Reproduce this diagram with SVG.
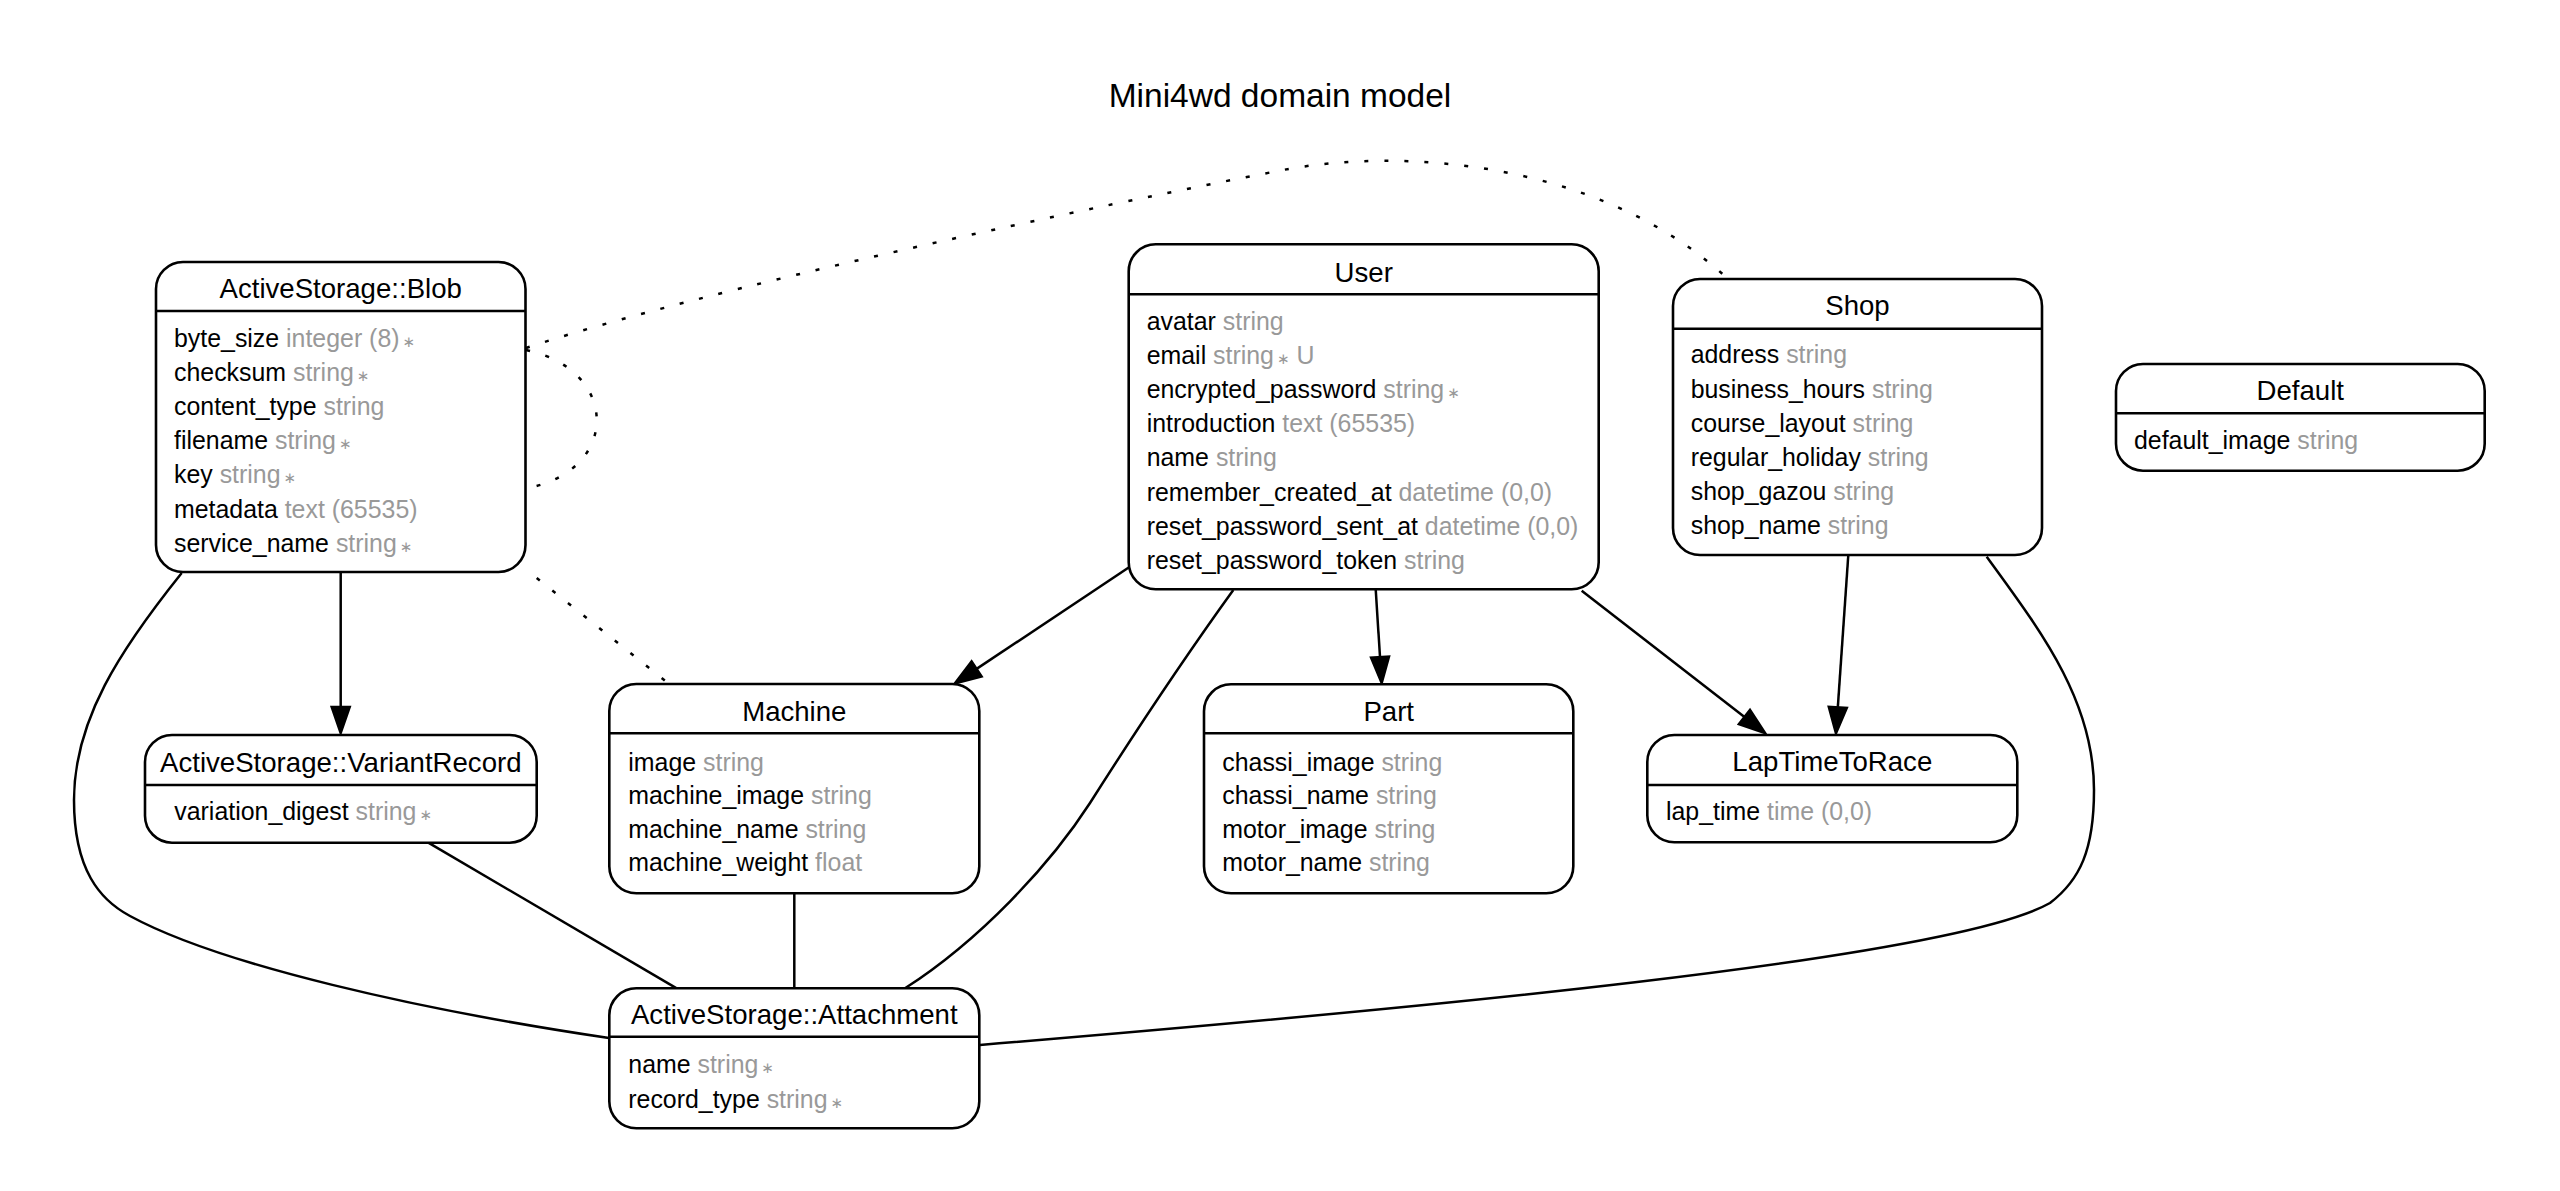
<svg xmlns="http://www.w3.org/2000/svg" width="2560" height="1191" viewBox="0 0 2560 1191">
<style>
.bg{fill:#fff}
.box{fill:#fff;stroke:#000;stroke-width:2.6}
.sep{stroke:#000;stroke-width:2.4}
text{font-family:"Liberation Sans",Arial,Helvetica,sans-serif;fill:#000}
.ttl{font-size:27.6px;text-anchor:middle}
.attr{font-size:24.9px}
.g{fill:#999}
.st{font-family:"DejaVu Sans",sans-serif;font-size:15px;fill:#999}
.head{font-size:33.5px;text-anchor:middle}
.edge{fill:none;stroke:#000;stroke-width:2.5}
.dot{stroke-dasharray:4 16}
.ah{fill:#000;stroke:#000;stroke-width:2.5;stroke-linejoin:miter}
</style>
<rect class="bg" x="0" y="0" width="2560" height="1191"/>
<text class="head" x="1280" y="106.7">Mini4wd domain model</text>

<g id="connectors">
  <!-- Blob -> Shop (dotted) -->
  <path class="edge dot" d="M526,348 C700,290 1100,205 1283,170 C1400,147.6 1600,160 1728,279"/>
  <!-- Blob self loop (dotted) -->
  <path class="edge dot" d="M526,350 C620,370 620,470 528,488"/>
  <!-- Blob -> Machine (dotted) -->
  <path class="edge dot" d="M536.7,578 L668,683"/>
  <!-- Blob -> VariantRecord -->
  <path class="edge" d="M340.7,572 L340.7,707"/>
  <polygon class="ah" points="340.7,733 331.7,707 349.7,707"/>
  <!-- Blob -> Attachment -->
  <path class="edge" d="M181.7,573 C120,650 74,720 74,800 C74,870 100,900 130,916 C220,965 420,1010 609,1038"/>
  <!-- VariantRecord -> Attachment -->
  <path class="edge" d="M428.3,842.7 L676.7,988.3"/>
  <!-- Machine -> Attachment -->
  <path class="edge" d="M794.3,893.3 L794.3,988.3"/>
  <!-- User -> Attachment -->
  <path class="edge" d="M1233.3,590 C1190,650 1130,740 1090,803 C1050,865 980,940 905,988.3"/>
  <!-- Shop -> Attachment -->
  <path class="edge" d="M1986.7,556.7 C2040,630 2094,700 2094,790 C2094,850 2080,880 2050,903 C1950,960 1400,1010 980,1045"/>
  <!-- User -> Machine -->
  <path class="edge" d="M1128.7,567.5 L976.6,668.9"/>
  <polygon class="ah" points="955,683.3 971.6,661.4 981.6,676.4"/>
  <!-- User -> Part -->
  <path class="edge" d="M1375.7,589.3 L1380,657"/>
  <polygon class="ah" points="1381.7,683 1371.1,657.6 1389,656.5"/>
  <!-- User -> LapTimeToRace -->
  <path class="edge" d="M1581.7,590.7 L1744.5,717.1"/>
  <polygon class="ah" points="1765,733 1738.9,724.2 1750,710"/>
  <!-- Shop -> LapTimeToRace -->
  <path class="edge" d="M1848.3,555 L1837.8,707.4"/>
  <polygon class="ah" points="1836,733.3 1828.8,706.8 1846.8,708"/>
</g>

<g id="blob">
  <rect class="box" x="156" y="262" width="369.5" height="310" rx="27"/>
  <line class="sep" x1="156" y1="311" x2="525.5" y2="311"/>
  <text class="ttl" x="340.7" y="298">ActiveStorage::Blob</text>
  <text class="attr" x="174" y="347">byte_size <tspan class="g">integer (8)</tspan><tspan class="st" dx="3">∗</tspan></text>
  <text class="attr" x="174" y="381.1">checksum <tspan class="g">string</tspan><tspan class="st" dx="3">∗</tspan></text>
  <text class="attr" x="174" y="415.2">content_type <tspan class="g">string</tspan></text>
  <text class="attr" x="174" y="449.3">filename <tspan class="g">string</tspan><tspan class="st" dx="3">∗</tspan></text>
  <text class="attr" x="174" y="483.4">key <tspan class="g">string</tspan><tspan class="st" dx="3">∗</tspan></text>
  <text class="attr" x="174" y="517.5">metadata <tspan class="g">text (65535)</tspan></text>
  <text class="attr" x="174" y="551.6">service_name <tspan class="g">string</tspan><tspan class="st" dx="3">∗</tspan></text>
</g>

<g id="variantrecord">
  <rect class="box" x="145" y="735" width="391.7" height="107.7" rx="27"/>
  <line class="sep" x1="145" y1="785" x2="536.7" y2="785"/>
  <text class="ttl" x="340.8" y="771.7">ActiveStorage::VariantRecord</text>
  <text class="attr" x="174.3" y="820">variation_digest <tspan class="g">string</tspan><tspan class="st" dx="3">∗</tspan></text>
</g>

<g id="user">
  <rect class="box" x="1128.7" y="244.3" width="470" height="345" rx="27"/>
  <line class="sep" x1="1128.7" y1="294.3" x2="1598.7" y2="294.3"/>
  <text class="ttl" x="1363.7" y="281.7">User</text>
  <text class="attr" x="1146.7" y="330">avatar <tspan class="g">string</tspan></text>
  <text class="attr" x="1146.7" y="364.1">email <tspan class="g">string</tspan><tspan class="st" dx="3">∗</tspan><tspan class="g"> U</tspan></text>
  <text class="attr" x="1146.7" y="398.2">encrypted_password <tspan class="g">string</tspan><tspan class="st" dx="3">∗</tspan></text>
  <text class="attr" x="1146.7" y="432.3">introduction <tspan class="g">text (65535)</tspan></text>
  <text class="attr" x="1146.7" y="466.4">name <tspan class="g">string</tspan></text>
  <text class="attr" x="1146.7" y="500.5">remember_created_at <tspan class="g">datetime (0,0)</tspan></text>
  <text class="attr" x="1146.7" y="534.6">reset_password_sent_at <tspan class="g">datetime (0,0)</tspan></text>
  <text class="attr" x="1146.7" y="568.7">reset_password_token <tspan class="g">string</tspan></text>
</g>

<g id="shop">
  <rect class="box" x="1673" y="279" width="369" height="276" rx="27"/>
  <line class="sep" x1="1673" y1="328.7" x2="2042" y2="328.7"/>
  <text class="ttl" x="1857.5" y="315">Shop</text>
  <text class="attr" x="1690.7" y="363.3">address <tspan class="g">string</tspan></text>
  <text class="attr" x="1690.7" y="397.5">business_hours <tspan class="g">string</tspan></text>
  <text class="attr" x="1690.7" y="431.7">course_layout <tspan class="g">string</tspan></text>
  <text class="attr" x="1690.7" y="465.9">regular_holiday <tspan class="g">string</tspan></text>
  <text class="attr" x="1690.7" y="500.1">shop_gazou <tspan class="g">string</tspan></text>
  <text class="attr" x="1690.7" y="534.3">shop_name <tspan class="g">string</tspan></text>
</g>

<g id="default">
  <rect class="box" x="2116" y="364" width="368.7" height="106.7" rx="27"/>
  <line class="sep" x1="2116" y1="413.3" x2="2484.7" y2="413.3"/>
  <text class="ttl" x="2300.3" y="400">Default</text>
  <text class="attr" x="2134" y="449">default_image <tspan class="g">string</tspan></text>
</g>

<g id="machine">
  <rect class="box" x="609.3" y="684" width="370" height="209.3" rx="27"/>
  <line class="sep" x1="609.3" y1="733.3" x2="979.3" y2="733.3"/>
  <text class="ttl" x="794.3" y="721">Machine</text>
  <text class="attr" x="628.3" y="770.7">image <tspan class="g">string</tspan></text>
  <text class="attr" x="628.3" y="804.2">machine_image <tspan class="g">string</tspan></text>
  <text class="attr" x="628.3" y="837.7">machine_name <tspan class="g">string</tspan></text>
  <text class="attr" x="628.3" y="871.2">machine_weight <tspan class="g">float</tspan></text>
</g>

<g id="part">
  <rect class="box" x="1204" y="684.3" width="369.3" height="209" rx="27"/>
  <line class="sep" x1="1204" y1="733.3" x2="1573.3" y2="733.3"/>
  <text class="ttl" x="1388.7" y="721">Part</text>
  <text class="attr" x="1222.3" y="770.7">chassi_image <tspan class="g">string</tspan></text>
  <text class="attr" x="1222.3" y="804.2">chassi_name <tspan class="g">string</tspan></text>
  <text class="attr" x="1222.3" y="837.7">motor_image <tspan class="g">string</tspan></text>
  <text class="attr" x="1222.3" y="871.2">motor_name <tspan class="g">string</tspan></text>
</g>

<g id="laptimetorace">
  <rect class="box" x="1647.3" y="735" width="370" height="107.3" rx="27"/>
  <line class="sep" x1="1647.3" y1="785" x2="2017.3" y2="785"/>
  <text class="ttl" x="1832.3" y="771">LapTimeToRace</text>
  <text class="attr" x="1666" y="820">lap_time <tspan class="g">time (0,0)</tspan></text>
</g>

<g id="attachment">
  <rect class="box" x="609.3" y="988.3" width="370" height="140" rx="27"/>
  <line class="sep" x1="609.3" y1="1036.7" x2="979.3" y2="1036.7"/>
  <text class="ttl" x="794.3" y="1024">ActiveStorage::Attachment</text>
  <text class="attr" x="628.3" y="1073.3">name <tspan class="g">string</tspan><tspan class="st" dx="3">∗</tspan></text>
  <text class="attr" x="628.3" y="1107.7">record_type <tspan class="g">string</tspan><tspan class="st" dx="3">∗</tspan></text>
</g>
</svg>
